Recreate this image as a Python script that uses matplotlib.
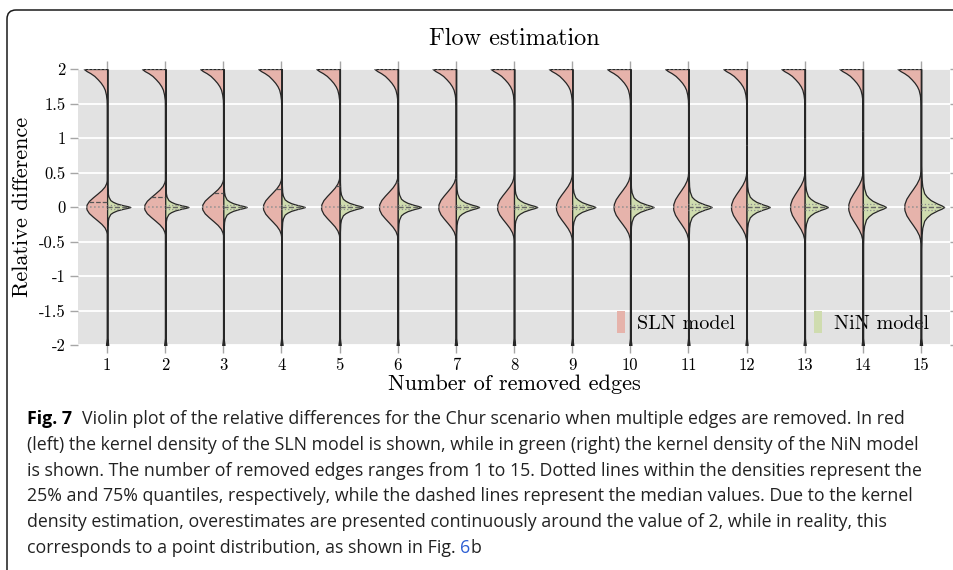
import numpy as np
import matplotlib
matplotlib.use("Agg")
import matplotlib.pyplot as plt
from matplotlib.patches import Patch, FancyBboxPatch

# ---- data ---------------------------------------------------------------
edges = list(range(1, 16))

# SLN (left half): width of the bump at 0 (share of widest part), its half height, median
sln_peak = [0.90, 0.91, 0.92, 0.80, 0.80, 0.81, 0.76, 0.73, 0.70, 0.72, 0.66, 0.67, 0.63, 0.63, 0.72]
sln_extent = [0.35, 0.36, 0.37, 0.39, 0.40, 0.41, 0.42, 0.43, 0.44, 0.45, 0.45, 0.46, 0.46, 0.47, 0.48]
sln_median = [0.08, 0.15, 0.21, 0.26, 0.31, 0.36, 0.42, 0.50, 0.60, 0.70, 0.80, 0.90, 1.00, 1.10, 1.20]
sln_q25 = [0.0] * 15
sln_q75 = [2.0] * 15

# NiN (right half): spread of the peak at 0, median and quartiles
nin_spread = [0.050, 0.050, 0.055, 0.055, 0.060, 0.060, 0.065, 0.065, 0.070, 0.070, 0.075, 0.075, 0.080, 0.090, 0.100]
nin_median = [0.0] * 15
nin_q25 = [-0.025, -0.025, -0.027, -0.027, -0.030, -0.030, -0.032, -0.032, -0.035, -0.035, -0.037, -0.037, -0.040, -0.045, -0.050]
nin_q75 = [0.025, 0.025, 0.027, 0.027, 0.030, 0.030, 0.032, 0.032, 0.035, 0.035, 0.037, 0.037, 0.040, 0.045, 0.050]

# density outlines (relative widths)
peak_u = [-1.1, -1.0, -0.85, -0.7, -0.55, -0.4, -0.25, -0.1, 0.0, 0.1, 0.25, 0.4, 0.55, 0.7, 0.85, 1.0, 1.1]
peak_f = [0.0, 0.04, 0.12, 0.27, 0.47, 0.68, 0.87, 0.98, 1.0, 0.98, 0.87, 0.68, 0.47, 0.27, 0.12, 0.04, 0.0]
top_y = [1.45, 1.55, 1.63, 1.70, 1.75, 1.80, 1.85, 1.90, 1.94, 1.97, 2.0]
top_f = [0.0, 0.02, 0.05, 0.10, 0.17, 0.27, 0.40, 0.55, 0.72, 0.88, 1.0]
nin_u = [-6, -4, -3, -2, -1.5, -1, -0.5, -0.25, 0, 0.25, 0.5, 1, 1.5, 2, 3, 4, 6, 10]
nin_f = [0.01, 0.03, 0.06, 0.14, 0.25, 0.42, 0.70, 0.88, 1.0, 0.88, 0.70, 0.42, 0.25, 0.14, 0.06, 0.03, 0.015, 0.01]
foot_y = [-2.0, -1.95, -1.9]
foot_f = [0.05, 0.03, 0.015]

yticks = [-2, -1.5, -1, -0.5, 0, 0.5, 1, 1.5, 2]
ytick_labels = ["-2", "-1.5", "-1", "-0.5", "0", "0.5", "1", "1.5", "2"]

caption = [
    "Violin plot of the relative differences for the Chur scenario when multiple edges are removed. In red",
    "(left) the kernel density of the SLN model is shown, while in green (right) the kernel density of the NiN model",
    "is shown. The number of removed edges ranges from 1 to 15. Dotted lines within the densities represent the",
    "25% and 75% quantiles, respectively, while the dashed lines represent the median values. Due to the kernel",
    "density estimation, overestimates are presented continuously around the value of 2, while in reality, this",
    "corresponds to a point distribution, as shown in Fig. ",
]

# ---- style ---------------------------------------------------------------
red = "#e6b3ab"
green = "#cfdcaf"
bg = "#e2e2e2"
half = 0.4      # half width of a violin
tail = 0.015    # relative width of the thin tails

plt.rcParams["font.family"] = ["cmr10", "DejaVu Serif"]

fig = plt.figure(figsize=(9.54, 5.70), dpi=100)
ax = fig.add_axes([0.0818, 0.3947, 0.9140, 0.4842])
ax.set_facecolor(bg)
ax.set_axisbelow(True)
ax.grid(axis="y", color="white", lw=1.3)
ax.grid(axis="x", visible=False)
for s in ax.spines.values():
    s.set_visible(False)

peak_u = np.array(peak_u)
peak_f = np.array(peak_f)
nin_u = np.array(nin_u)
nin_f = np.array(nin_f)

for i, x in enumerate(edges):
    # SLN, left half
    ys = np.concatenate([foot_y, peak_u * sln_extent[i], top_y])
    ws = np.concatenate([foot_f, np.maximum(peak_f * sln_peak[i], tail), np.maximum(top_f, tail)]) * half
    ax.fill_betweenx(ys, x - ws, x, facecolor=red, edgecolor="#262626", lw=0.9, zorder=2)

    # NiN, right half
    yn = np.concatenate([foot_y, nin_u * nin_spread[i], [2.0]])
    wn = np.concatenate([foot_f, np.maximum(nin_f, tail), [tail]]) * half
    ax.fill_betweenx(yn, x, x + wn, facecolor=green, edgecolor="#262626", lw=0.9, zorder=2)

    # quartiles (dotted) and medians (dashed)
    for q in (sln_q25[i], sln_q75[i]):
        w = np.interp(q, ys, ws)
        ax.plot([x - w, x], [q, q], ls=":", color="#8f8f8f", lw=1.1, zorder=3)
    w = np.interp(sln_median[i], ys, ws)
    ax.plot([x - w, x], [sln_median[i]] * 2, ls="--", color="#555555", lw=0.9, zorder=3)
    for q in (nin_q25[i], nin_q75[i]):
        w = np.interp(q, yn, wn)
        ax.plot([x, x + w], [q, q], ls=":", color="#8f8f8f", lw=0.9, zorder=3)
    w = np.interp(nin_median[i], yn, wn)
    ax.plot([x, x + w], [nin_median[i]] * 2, ls="--", color="#666666", lw=1.0, zorder=3)

ax.set_xlim(0.5, 15.5)
ax.set_ylim(-2, 2)
ax.set_xticks(edges)
ax.set_xticklabels([str(e) for e in edges])
ax.set_yticks(yticks)
ax.set_yticklabels(ytick_labels)
ax.tick_params(which="both", direction="out", length=6, width=1, color="#a6a6a6",
               top=True, right=True, labelsize=12, pad=3)

ax.set_title("Flow estimation", fontsize=17.5, pad=17)
ax.set_xlabel("Number of removed edges", fontsize=16, labelpad=1)
ax.set_ylabel("Relative difference", fontsize=16, labelpad=5)

handles = [Patch(facecolor=red, edgecolor="none"), Patch(facecolor=green, edgecolor="none")]
leg = ax.legend(handles, ["SLN model", "NiN model"], ncol=2, loc="lower right",
                bbox_to_anchor=(0.99, 0.0), frameon=False, fontsize=14.5,
                handlelength=0.42, handleheight=1.3, handletextpad=0.6,
                columnspacing=3.9, borderaxespad=0.2)
leg.set_zorder(1)

# rounded frame around the figure panel
frame = FancyBboxPatch((0.07, -1.0), 12.0, 6.6, boxstyle="round,pad=0,rounding_size=0.09",
                       transform=fig.dpi_scale_trans, fill=False, ec="#1a1a1a", lw=1.1)
fig.add_artist(frame)

# caption
cap_font = ["Open Sans", "DejaVu Sans"]
cap_size = 12.8
r = fig.canvas.get_renderer()
x0 = 27 / 954
baselines = [424, 449.8, 475.6, 501.4, 527.2, 553]
for k, line in enumerate(caption):
    yb = 1 - baselines[k] / 570
    xs = x0
    if k == 0:
        t = fig.text(xs, yb, "Fig. 7", family=cap_font, fontsize=cap_size, weight="bold", va="baseline")
        xs = t.get_window_extent(renderer=r).x1 / fig.bbox.width + 10 / 954
    t = fig.text(xs, yb, line, family=cap_font, fontsize=cap_size, va="baseline", color="#222222")
    if k == len(caption) - 1:
        xs = t.get_window_extent(renderer=r).x1 / fig.bbox.width
        t = fig.text(xs, yb, "6", family=cap_font, fontsize=cap_size, va="baseline", color="#2d5fd3")
        xs = t.get_window_extent(renderer=r).x1 / fig.bbox.width
        fig.text(xs, yb, "b", family=cap_font, fontsize=cap_size, va="baseline", color="#222222")

fig.savefig("out.png", dpi=100, facecolor="white")
